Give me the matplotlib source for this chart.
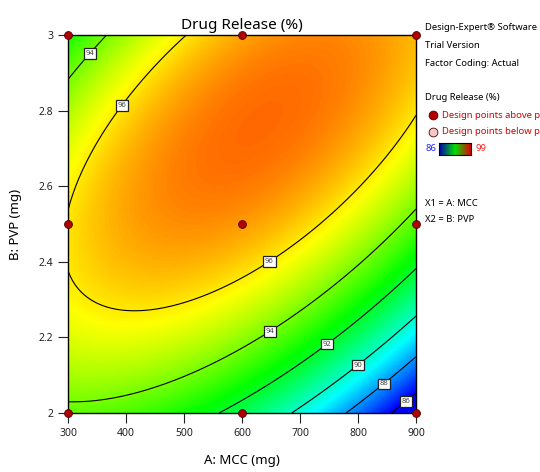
import numpy as np
import matplotlib
matplotlib.use('Agg')
import matplotlib.pyplot as plt
from matplotlib.colors import LinearSegmentedColormap

plt.rcParams['font.family'] = ['Noto Sans', 'DejaVu Sans']

# fitted quadratic model (coded factors a, b in -1..1)
coef_names = ['b0', 'A', 'B', 'AB', 'A2', 'B2']
coef_values = [97.0, -1.25, 2.7, 3.2, -2.2, -2.85]

mcc_range = [300, 900]
pvp_range = [2.0, 3.0]
contour_levels = [86, 88, 90, 92, 94, 96]
color_range = [86, 99]

# design points (all above predicted value)
design_mcc = [300, 600, 900, 300, 600, 900, 300, 600, 900]
design_pvp = [2.0, 2.0, 2.0, 2.5, 2.5, 2.5, 3.0, 3.0, 3.0]

# where the contour labels sit
label_pos = [(331, 2.96), (383, 2.825), (652, 2.39), (650, 2.21),
             (750, 2.175), (803, 2.12), (848, 2.07), (886, 2.024)]

xticks = [300, 400, 500, 600, 700, 800, 900]
yticks = [2, 2.2, 2.4, 2.6, 2.8, 3]
ytick_labels = ['2', '2.2', '2.4', '2.6', '2.8', '3']


def model(x, y):
    c = dict(zip(coef_names, coef_values))
    a = (x - 600.) / 300.
    b = (y - 2.5) / 0.5
    return (c['b0'] + c['A'] * a + c['B'] * b + c['AB'] * a * b
            + c['A2'] * a ** 2 + c['B2'] * b ** 2)


# Design-Expert style rainbow, blue (low) -> red (high)
de_cmap = LinearSegmentedColormap.from_list(
    'de', ['#0000ff', '#00ffff', '#00ff00', '#ffff00', '#ff0000'])

fig = plt.figure(figsize=(5.4, 4.72), dpi=100)
ax = fig.add_axes([68 / 540, 1 - 413 / 472, 348 / 540, 378 / 472])

gx, gy = np.meshgrid(np.linspace(mcc_range[0], mcc_range[1], 300),
                     np.linspace(pvp_range[0], pvp_range[1], 300))
gz = model(gx, gy)

ax.imshow(gz, origin='lower', extent=mcc_range + pvp_range, aspect='auto',
          cmap=de_cmap, vmin=color_range[0], vmax=color_range[1],
          interpolation='bilinear')
cs = ax.contour(gx, gy, gz, levels=contour_levels, colors='k', linewidths=0.8)
labels = ax.clabel(cs, fmt='%d', fontsize=5.5, inline=False, manual=label_pos)
for t in labels:
    t.set_rotation(0)
    t.set_color('#444444')
    t.set_bbox(dict(boxstyle='square,pad=0.22', fc='white', ec='#222222', lw=0.9))

ax.scatter(design_mcc, design_pvp, s=32, c='#b00000', edgecolors='#500000',
           linewidths=0.6, zorder=5, clip_on=False)

ax.set_xlim(mcc_range)
ax.set_ylim(pvp_range)
ax.set_xticks(xticks)
ax.set_yticks(yticks)
ax.set_yticklabels(ytick_labels)
ax.tick_params(direction='out', length=7, width=0.8, labelsize=7.5, colors='#222222')
for s in ax.spines.values():
    s.set_linewidth(1.0)
ax.set_xlabel('A: MCC (mg)', fontsize=9.5, labelpad=11)
ax.set_ylabel('B: PVP (mg)', fontsize=9.5, labelpad=12)
ax.set_title('Drug Release (%)', fontsize=11, pad=4)

# side legend, as in Design-Expert
fs = 6.8
fig.text(425 / 540, 1 - 28 / 472, 'Design-Expert\u00ae Software', fontsize=fs,
         fontweight='bold', va='center')
fig.text(425 / 540, 1 - 46 / 472, 'Trial Version', fontsize=fs, fontweight='bold', va='center')
fig.text(425 / 540, 1 - 63 / 472, 'Factor Coding: Actual', fontsize=fs, va='center')
fig.text(425 / 540, 1 - 98 / 472, 'Drug Release (%)', fontsize=fs, fontweight='bold', va='center')
fig.text(442 / 540, 1 - 115 / 472, 'Design points above predicted value', fontsize=fs,
         color='#d00000', va='center')
fig.text(442 / 540, 1 - 132 / 472, 'Design points below predicted value', fontsize=fs,
         color='#d00000', va='center')
fig.text(425 / 540, 1 - 149 / 472, '86', fontsize=fs, color='#2020ff', va='center')
fig.text(475 / 540, 1 - 149 / 472, '99', fontsize=fs, color='#ff2020', va='center')
fig.text(425 / 540, 1 - 203 / 472, 'X1 = A: MCC', fontsize=fs, va='center')
fig.text(425 / 540, 1 - 219 / 472, 'X2 = B: PVP', fontsize=fs, va='center')

lax = fig.add_axes([0, 0, 1, 1], facecolor='none')
lax.set_xlim(0, 540)
lax.set_ylim(472, 0)
lax.axis('off')
lax.scatter([433], [115], s=40, c='#b00000', edgecolors='#500000', linewidths=0.6)
lax.scatter([433], [132], s=40, c='#f4c8c8', edgecolors='#500000', linewidths=0.6)
bar_ax = fig.add_axes([439 / 540, 1 - 155 / 472, 32 / 540, 12 / 472])
bar_ax.imshow(np.linspace(0, 1, 100)[None, :], aspect='auto',
              cmap=LinearSegmentedColormap.from_list('bar', ['#0000b0', '#00e000', '#e00000']))
bar_ax.set_xticks([])
bar_ax.set_yticks([])
for s in bar_ax.spines.values():
    s.set_linewidth(0.8)

fig.savefig('out.png', dpi=100)
